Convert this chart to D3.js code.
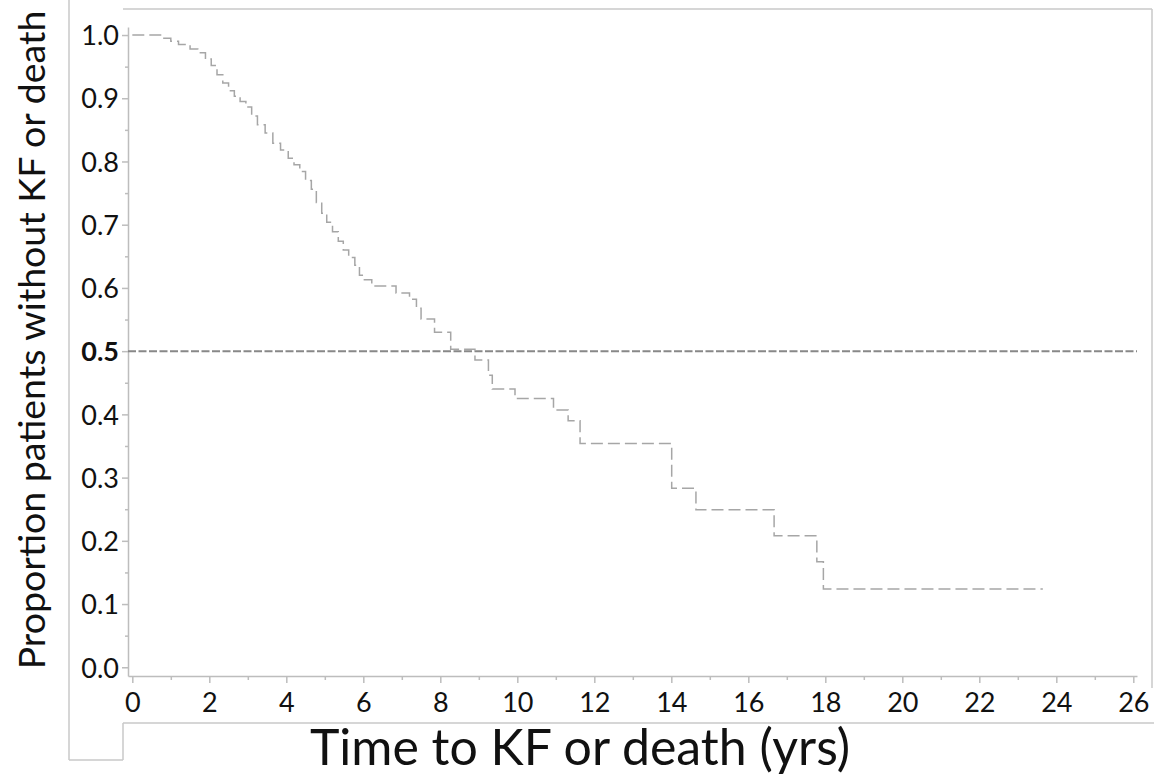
<!DOCTYPE html>
<html>
<head>
<meta charset="utf-8">
<script src="https://cdn.jsdelivr.net/npm/d3@7"></script>
<style>
  body { margin: 0; background: #fff; }
  svg { display: block; }
  .tick text { font-family: Lato, "Noto Sans", sans-serif; font-size: 27px; fill: #111; }
  .axis-label { font-family: Lato, "Noto Sans", sans-serif; fill: #111; }
</style>
</head>
<body>
<svg id="graph" width="1154" height="775"></svg>
<script>
// Kaplan-Meier step data (time in yrs, proportion after the step)
var stepTimes = [0, 0.8, 1.0, 1.2, 1.5, 1.7, 1.9, 2.05, 2.2, 2.35, 2.5, 2.65, 2.8, 2.95, 3.1, 3.25,
  3.45, 3.65, 3.85, 4.05, 4.2, 4.35, 4.5, 4.65, 4.78, 4.92, 5.05, 5.2, 5.35, 5.48, 5.62, 5.78,
  5.9, 6.0, 6.22, 6.85, 7.2, 7.38, 7.5, 7.85, 8.27, 8.9, 9.25, 9.35, 9.94, 10.94, 11.32, 11.63,
  14.01, 14.64, 16.67, 17.78, 17.95];
var stepSurvival = [1.0, 0.995, 0.99, 0.985, 0.978, 0.972, 0.962, 0.952, 0.937, 0.924, 0.912, 0.903, 0.895, 0.886, 0.872, 0.858,
  0.845, 0.829, 0.818, 0.805, 0.795, 0.784, 0.770, 0.756, 0.735, 0.718, 0.704, 0.689, 0.674, 0.660, 0.648, 0.636,
  0.620, 0.613, 0.603, 0.592, 0.582, 0.568, 0.551, 0.530, 0.503, 0.486, 0.462, 0.440, 0.425, 0.407, 0.390, 0.354,
  0.283, 0.249, 0.208, 0.167, 0.124];
var lastTime = 23.65;

// median reference line
var medianLevel = 0.5;

// tick values
var xTickValues = d3.range(0, 27, 1);
var yTickValues = d3.range(0, 21, 1).map(function(i) { return +(i * 0.05).toFixed(2); });

var width = 1154, height = 775;
const svg = d3.select('#graph');

// scales (domain slightly wider than the labelled range, like the original axes)
const x = d3.scaleLinear().domain([-0.112, 26.096]).range([128, 1137]);
const y = d3.scaleLinear().domain([-0.0138, 1.0127]).range([676, 27]);

// the odd frame pieces around the plot
const frameColor = "#c8c8c8";
var frame = [
  [69, 0, 69, 760], [69, 760, 123, 760], [123, 760, 123, 723], [123, 723, 1154, 723],
  [123, 9, 1152, 9], [1152, 9, 1152, 688]
];
svg.selectAll(".frame").data(frame).join("line")
  .attr("class", "frame")
  .attr("x1", d => d[0]).attr("y1", d => d[1])
  .attr("x2", d => d[2]).attr("y2", d => d[3])
  .attr("stroke", frameColor).attr("stroke-width", 1.5);

// x axis
const xAxis = svg.append("g").attr("transform", `translate(0,${y.range()[0]})`)
  .call(d3.axisBottom(x).tickValues(xTickValues).tickSizeOuter(0)
    .tickFormat(d => d % 2 === 0 ? d : ""));
xAxis.selectAll(".tick line").attr("y2", d => d % 2 === 0 ? 7 : 4);
xAxis.selectAll(".tick text").attr("y", 17).attr("dy", "0.71em");

// y axis
const yAxis = svg.append("g").attr("transform", `translate(${x.range()[0]},0)`)
  .call(d3.axisLeft(y).tickValues(yTickValues).tickSizeOuter(0)
    .tickFormat(d => Math.round(d * 100) % 10 === 0 ? d3.format(".1f")(d) : ""));
yAxis.selectAll(".tick line").attr("x2", d => Math.round(d * 100) % 10 === 0 ? -6 : -3);
yAxis.selectAll(".tick text").attr("x", -9).attr("dy", "0.36em")
  .style("font-weight", d => d === medianLevel ? "bold" : "normal");

// axis styling
svg.selectAll(".domain, .tick line").attr("stroke", "#bdbdbd").attr("stroke-width", 1.5);

// the survival curve as a step line
var curveData = stepTimes.map((t, i) => ({ t: t, s: stepSurvival[i] }));
curveData.push({ t: lastTime, s: stepSurvival[stepSurvival.length - 1] });
const line = d3.line().x(d => x(d.t)).y(d => y(d.s)).curve(d3.curveStepAfter);

// median line
svg.append("line")
  .attr("x1", x.range()[0]).attr("x2", x.range()[1])
  .attr("y1", y(medianLevel)).attr("y2", y(medianLevel))
  .attr("stroke", "#888").attr("stroke-width", 2)
  .attr("stroke-dasharray", "8,2.5");

svg.append("path")
  .datum(curveData)
  .attr("d", line)
  .attr("fill", "none")
  .attr("stroke", "#a6a6a6")
  .attr("stroke-width", 1.5)
  .attr("stroke-dasharray", "12,5");

// axis labels
svg.append('text')
  .attr('class', 'axis-label')
  .attr('text-anchor', 'middle')
  .attr('x', 580)
  .attr('y', 765)
  .style('font-size', '50px')
  .text('Time to KF or death (yrs)');
svg.append('text')
  .attr('class', 'axis-label')
  .attr('text-anchor', 'middle')
  .attr('transform', 'translate(45,340) rotate(-90)')
  .style('font-size', '37.5px')
  .text('Proportion patients without KF or death');
</script>
</body>
</html>
